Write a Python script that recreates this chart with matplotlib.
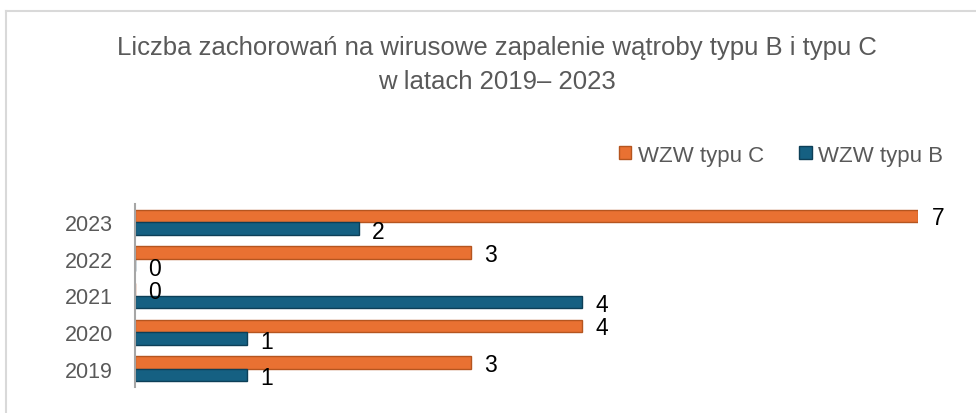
import numpy as np
import matplotlib.pyplot as plt
from matplotlib.lines import Line2D

years = ["2019", "2020", "2021", "2022", "2023"]
wzw_c = [3, 4, 0, 3, 7]
wzw_b = [1, 1, 4, 0, 2]

orange = "#E97132"
blue = "#156082"
gray = "#595959"

plt.rcParams['font.family'] = ['Liberation Sans', 'DejaVu Sans']

fig = plt.figure(figsize=(9.76, 4.14), dpi=100)
ax = fig.add_axes([135 / 976, 1 - 388 / 414, 783 / 976, 183 / 414])

y = np.arange(len(years))
h = 0.34
bc = ax.barh(y + h / 2, wzw_c, height=h, color=orange, edgecolor="#B5551F", linewidth=1.0, label="WZW typu C")
bb = ax.barh(y - h / 2, wzw_b, height=h, color=blue, edgecolor="#0D3F57", linewidth=1.0, label="WZW typu B")

# value labels
for yi, v in zip(y, wzw_c):
    ax.text(v + 0.12, yi + h / 2 - 0.05, str(v), fontsize=16.5, color="black", va="center", ha="left", clip_on=False)
for yi, v in zip(y, wzw_b):
    ax.text(v + 0.12, yi - h / 2 - 0.08, str(v), fontsize=16.5, color="black", va="center", ha="left", clip_on=False)

ax.set_xlim(0, 7)
ax.set_ylim(-0.5, 4.5)
ax.set_yticks(y)
ax.set_yticklabels(years, fontsize=15.5, color=gray)
ax.tick_params(axis="y", length=0, pad=16)
ax.set_xticks([])
for s in ["top", "right", "bottom"]:
    ax.spines[s].set_visible(False)
ax.spines["left"].set_color("#A6A6A6")
ax.spines["left"].set_linewidth(1.5)

fig.text(0.509, 0.843, "Liczba zachorowań na wirusowe zapalenie wątroby typu B i typu C\nw latach 2019– 2023",
         ha="center", va="center", fontsize=18.5, color=gray, linespacing=1.5)

fig.legend(handles=[bc, bb], loc="center", bbox_to_anchor=(781 / 976, 1 - 156 / 414), ncol=2,
           frameon=False, fontsize=16, labelcolor=gray, handlelength=0.55, handleheight=0.55,
           handletextpad=0.3, columnspacing=1.6)

# outer chart frame
fig.add_artist(Line2D([6 / 976, 1], [1 - 12 / 414, 1 - 12 / 414], color="#D9D9D9", lw=1.5))
fig.add_artist(Line2D([6 / 976, 6 / 976], [0, 1 - 12 / 414], color="#D9D9D9", lw=1.5))

fig.savefig("out.png", dpi=100)
